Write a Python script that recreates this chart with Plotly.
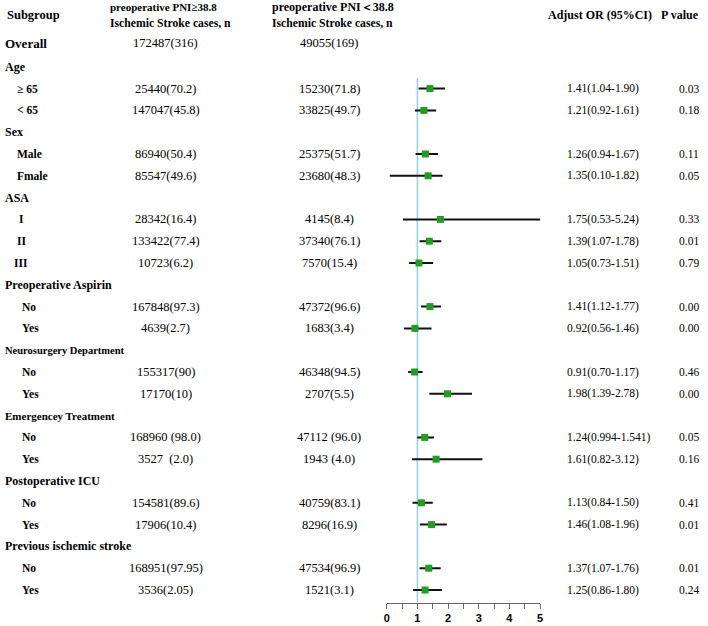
import plotly.graph_objects as go

# ---------------- data ----------------
labels = ["Overall", "Age", "≥ 65", "< 65", "Sex", "Male", "Fmale", "ASA", "I", "II", "III",
          "Preoperative Aspirin", "No", "Yes", "Neurosurgery Department", "No", "Yes",
          "Emergencey Treatment", "No", "Yes", "Postoperative ICU", "No", "Yes",
          "Previous ischemic stroke", "No", "Yes"]
row_type = ["overall", "group", "sub", "sub", "group", "sub", "sub", "group", "roman", "roman", "roman",
            "group", "sub", "sub", "group_small", "sub", "sub", "group_small2", "sub", "sub",
            "group", "sub", "sub", "group", "sub", "sub"]
high_pni = ["172487(316)", "", "25440(70.2)", "147047(45.8)", "", "86940(50.4)", "85547(49.6)", "",
            "28342(16.4)", "133422(77.4)", "10723(6.2)", "", "167848(97.3)", "4639(2.7)", "",
            "155317(90)", "17170(10)", "", "168960 (98.0)", "3527\u00a0\u00a0(2.0)", "",
            "154581(89.6)", "17906(10.4)", "", "168951(97.95)", "3536(2.05)"]
low_pni = ["49055(169)", "", "15230(71.8)", "33825(49.7)", "", "25375(51.7)", "23680(48.3)", "",
           "4145(8.4)", "37340(76.1)", "7570(15.4)", "", "47372(96.6)", "1683(3.4)", "",
           "46348(94.5)", "2707(5.5)", "", "47112 (96.0)", "1943 (4.0)", "",
           "40759(83.1)", "8296(16.9)", "", "47534(96.9)", "1521(3.1)"]
or_vals = [None, None, 1.41, 1.21, None, 1.26, 1.35, None, 1.75, 1.39, 1.05, None, 1.41, 0.92, None,
           0.91, 1.98, None, 1.24, 1.61, None, 1.13, 1.46, None, 1.37, 1.25]
ci_lo = [None, None, 1.04, 0.92, None, 0.94, 0.10, None, 0.53, 1.07, 0.73, None, 1.12, 0.56, None,
         0.70, 1.39, None, 0.994, 0.82, None, 0.84, 1.08, None, 1.07, 0.86]
ci_hi = [None, None, 1.90, 1.61, None, 1.67, 1.82, None, 5.24, 1.78, 1.51, None, 1.77, 1.46, None,
         1.17, 2.78, None, 1.541, 3.12, None, 1.50, 1.96, None, 1.76, 1.80]
or_text = ["", "", "1.41(1.04-1.90)", "1.21(0.92-1.61)", "", "1.26(0.94-1.67)", "1.35(0.10-1.82)", "",
           "1.75(0.53-5.24)", "1.39(1.07-1.78)", "1.05(0.73-1.51)", "", "1.41(1.12-1.77)",
           "0.92(0.56-1.46)", "", "0.91(0.70-1.17)", "1.98(1.39-2.78)", "", "1.24(0.994-1.541)",
           "1.61(0.82-3.12)", "", "1.13(0.84-1.50)", "1.46(1.08-1.96)", "", "1.37(1.07-1.76)",
           "1.25(0.86-1.80)"]
p_text = ["", "", "0.03", "0.18", "", "0.11", "0.05", "", "0.33", "0.01", "0.79", "", "0.00", "0.00", "",
          "0.46", "0.00", "", "0.05", "0.16", "", "0.41", "0.01", "", "0.01", "0.24"]
x_ticks = [0, 0.5, 1, 1.5, 2, 2.5, 3, 3.5, 4, 4.5, 5]
x_ticktext = ["0", "", "1", "", "2", "", "3", "", "4", "", "5"]

# ---------------- layout helpers ----------------
W, H = 708, 626
ROW0, STEP = 45.0, 21.8          # pixel y of row 0 and row spacing
AXIS_PX = 602.5                  # pixel y of x-axis line


def k_of(py):
    return (py - ROW0) / STEP


def px(x):
    return x / W


SERIF = "Liberation Serif, Times New Roman, serif"
fig = go.Figure()

rows = list(range(len(labels)))
idx = [i for i in rows if or_vals[i] is not None]

fig.add_trace(go.Scatter(
    x=[or_vals[i] for i in idx],
    y=[i for i in idx],
    mode="markers",
    marker=dict(symbol="square", size=7, color="#1f9e1f", line=dict(width=0)),
    error_x=dict(type="data", symmetric=False,
                 array=[ci_hi[i] - or_vals[i] for i in idx],
                 arrayminus=[or_vals[i] - ci_lo[i] for i in idx],
                 width=0, thickness=2, color="#111111"),
    showlegend=False, hoverinfo="skip", cliponaxis=False,
))

fig.add_shape(type="line", xref="x", yref="y", x0=1, x1=1, y0=k_of(78), y1=k_of(AXIS_PX),
              line=dict(color="#8fd3e2", width=1.5), layer="below")

ann = []


def add(text, x, k, size, bold=False, anchor="left", family=SERIF):
    ann.append(dict(text=("<b>%s</b>" % text) if bold else text, x=px(x), y=k, xref="paper", yref="y",
                    xanchor=anchor, yanchor="middle", showarrow=False,
                    font=dict(family=family, size=size, color="#000000")))


# headers
add("Subgroup", 2, k_of(15), 12.5, bold=True)
add("preoperative PNI≥38.8", 106, k_of(7), 11, bold=True)
add("Ischemic Stroke cases, n", 106, k_of(23), 11.7, bold=True)
add("preoperative PNI＜38.8", 269, k_of(7), 12, bold=True)
add("Ischemic Stroke cases, n", 269, k_of(23), 11.7, bold=True)
add("Adjust OR (95%CI)", 548, k_of(15), 12, bold=True)
add("P value", 662, k_of(15), 12, bold=True)

for i in rows:
    t = row_type[i]
    kk = i if i > 0 else k_of(43)
    if t == "overall":
        add(labels[i], 0, kk, 13, bold=True)
    elif t == "group":
        add(labels[i], 0, kk, 12, bold=True)
    elif t == "group_small":
        add(labels[i], 0, kk, 10.5, bold=True)
    elif t == "group_small2":
        add(labels[i], 0, kk, 11, bold=True)
    elif t == "roman":
        add(labels[i], 18.5, kk, 11.5, bold=True, anchor="center")
    else:
        xoff = 12 if i < 7 else 17
        add(labels[i], xoff, kk, 11.5, bold=True)
    if high_pni[i]:
        add(high_pni[i], 164, kk, 12.5, anchor="center")
    if low_pni[i]:
        add(low_pni[i], 329, kk, 12.5, anchor="center")
    if or_text[i]:
        add(or_text[i], 567, kk, 11.5)
    if p_text[i]:
        add(p_text[i], 680, kk, 11.5)

fig.update_layout(
    width=W, height=H, autosize=False,
    margin=dict(l=0, r=0, t=0, b=0),
    paper_bgcolor="white", plot_bgcolor="white",
    annotations=ann,
    xaxis=dict(domain=[387 / W, 541.7 / W], range=[0, 5], tickmode="array",
               tickvals=x_ticks, ticktext=x_ticktext, showgrid=False, zeroline=False,
               showline=True, linecolor="#666666", linewidth=1, ticks="outside", ticklen=5,
               tickcolor="#666666", tickwidth=1,
               tickfont=dict(family="Liberation Sans, Arial, sans-serif", size=11, color="#000000",
                             weight="bold")),
    yaxis=dict(domain=[(H - AXIS_PX) / H, 1], range=[k_of(AXIS_PX), k_of(0)], visible=False,
               showgrid=False, zeroline=False),
)

fig.write_html("out.html", config={"displayModeBar": False, "staticPlot": True},
               post_script="document.body.style.margin='0';document.body.style.overflow='hidden';")
